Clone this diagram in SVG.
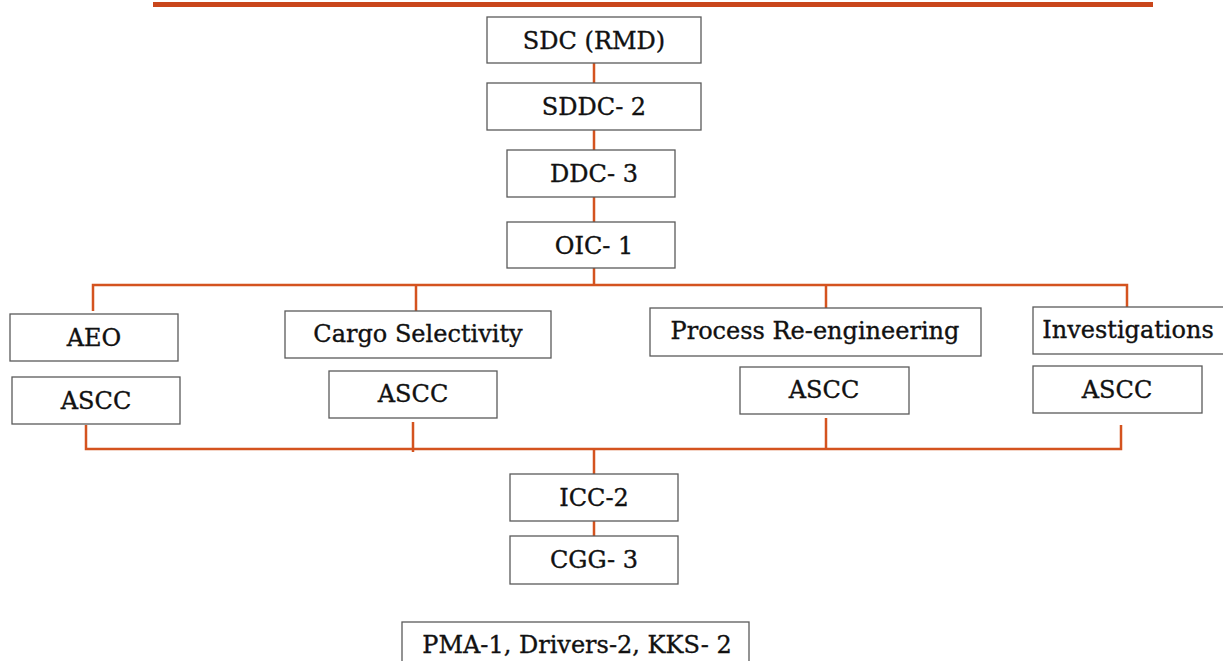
<svg xmlns="http://www.w3.org/2000/svg" width="1223" height="661" viewBox="0 0 1223 661">
  <style>
    .box { fill: #ffffff; stroke: #5a5a5a; stroke-width: 1.3; }
    .lbl { font-family: "DejaVu Serif", "Liberation Serif", serif; font-size: 24px; fill: #111111; stroke: #111111; stroke-width: 0.35; text-anchor: middle; }
    .wire { fill: none; stroke: #d4531f; stroke-width: 2.5; }
  </style>
  <rect width="1223" height="661" fill="#ffffff"/>
  <!-- title rule -->
  <rect x="153" y="2" width="1000" height="5" fill="#c9461b"/>

  <g id="connectors">
    <path class="wire" d="M594 63 V83 M594 130 V150 M594 197 V222 M594 268 V285"/>
    <path class="wire" d="M93 311 V285 H1127 V307 M416 285 V311 M826 285 V308"/>
    <path class="wire" d="M86 425 V449 H1121 V425 M413 422 V452 M826 418 V449"/>
    <path class="wire" d="M594 449 V474 M594 521 V536"/>
  </g>

  <g id="sdc"><rect class="box" x="487" y="17" width="214" height="46"/><text class="lbl" x="594" y="49">SDC (RMD)</text></g>
  <g id="sddc"><rect class="box" x="487" y="83" width="214" height="47"/><text class="lbl" x="594" y="115">SDDC- 2</text></g>
  <g id="ddc"><rect class="box" x="507" y="150" width="168" height="47"/><text class="lbl" x="594" y="182">DDC- 3</text></g>
  <g id="oic"><rect class="box" x="507" y="222" width="168" height="46"/><text class="lbl" x="594" y="254">OIC- 1</text></g>

  <g id="aeo"><rect class="box" x="10" y="314" width="168" height="47"/><text class="lbl" x="94" y="346">AEO</text></g>
  <g id="ascc-aeo"><rect class="box" x="12" y="377" width="168" height="47"/><text class="lbl" x="96" y="409">ASCC</text></g>

  <g id="cargo"><rect class="box" x="285" y="311" width="266" height="47"/><text class="lbl" x="418" y="342">Cargo Selectivity</text></g>
  <g id="ascc-cargo"><rect class="box" x="329" y="371" width="168" height="47"/><text class="lbl" x="413" y="402">ASCC</text></g>

  <g id="process"><rect class="box" x="650" y="308" width="331" height="48"/><text class="lbl" x="815" y="339">Process Re-engineering</text></g>
  <g id="ascc-process"><rect class="box" x="740" y="367" width="169" height="47"/><text class="lbl" x="824" y="398">ASCC</text></g>

  <g id="investigations"><rect class="box" x="1033" y="307" width="200" height="47"/><text class="lbl" x="1128" y="338">Investigations</text></g>
  <g id="ascc-investigations"><rect class="box" x="1033" y="366" width="169" height="47"/><text class="lbl" x="1117" y="398">ASCC</text></g>

  <g id="icc"><rect class="box" x="510" y="474" width="168" height="47"/><text class="lbl" x="594" y="506">ICC-2</text></g>
  <g id="cgg"><rect class="box" x="510" y="536" width="168" height="48"/><text class="lbl" x="594" y="568">CGG- 3</text></g>

  <g id="support"><rect class="box" x="402" y="622" width="347" height="50"/><text class="lbl" x="577" y="653">PMA-1, Drivers-2, KKS- 2</text></g>
</svg>
